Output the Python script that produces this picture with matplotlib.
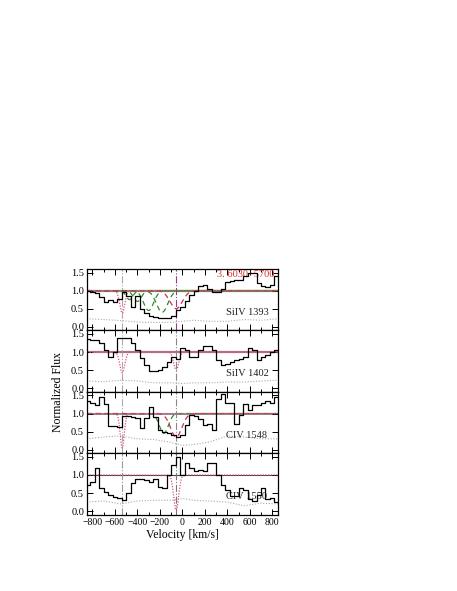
import numpy as np
import matplotlib
matplotlib.use("Agg")
import matplotlib.pyplot as plt
from matplotlib.ticker import MultipleLocator

plt.rcParams['font.family'] = ['Liberation Serif', 'DejaVu Serif']
plt.rcParams['mathtext.fontset'] = 'stix'

# bin centres (km/s)
vel = [-840, -800, -760, -720, -680, -640, -600, -560, -520, -480, -440, -400,
       -360, -320, -280, -240, -200, -160, -120, -80, -40, 0, 40, 80, 120, 160,
       200, 240, 280, 320, 360, 400, 440, 480, 520, 560, 600, 640, 680, 720,
       760, 800, 840]

flux_si1393 = [1.00, 0.97, 0.92, 0.83, 0.68, 0.73, 0.68, 0.78, 0.95, 0.85, 0.55,
               0.85, 0.50, 0.38, 0.30, 0.28, 0.25, 0.24, 0.23, 0.30, 0.45, 0.55,
               0.72, 0.88, 1.00, 1.12, 1.15, 1.05, 0.97, 0.95, 1.05, 1.25, 1.27,
               1.30, 1.30, 1.40, 1.50, 1.50, 1.20, 1.12, 1.10, 1.15, 1.40]
flux_si1402 = [1.36, 1.34, 1.34, 1.26, 1.07, 0.87, 1.00, 1.40, 1.38, 1.38, 1.26,
               1.07, 0.83, 0.63, 0.49, 0.49, 0.50, 0.60, 0.73, 0.87, 0.80, 1.12,
               1.05, 0.87, 0.87, 1.07, 1.16, 1.16, 1.07, 0.78, 0.63, 0.68, 0.73,
               0.78, 0.80, 0.85, 1.12, 1.05, 0.78, 0.85, 0.92, 1.00, 1.07]
flux_c1548 = [1.34, 1.28, 1.23, 1.45, 1.25, 0.66, 0.66, 0.63, 0.93, 0.93, 0.90,
              0.89, 0.60, 0.89, 1.19, 0.90, 0.55, 0.50, 0.46, 0.40, 0.35, 0.40,
              0.67, 0.95, 0.93, 0.84, 0.67, 0.70, 0.54, 1.40, 1.53, 1.28, 1.28,
              0.72, 0.95, 1.25, 1.10, 1.23, 1.23, 1.28, 1.35, 1.30, 1.45]
flux_c1550 = [0.72, 0.81, 1.18, 0.63, 0.54, 0.44, 0.40, 0.35, 0.32, 0.49, 0.77,
              0.90, 0.88, 0.85, 0.80, 0.90, 0.68, 0.65, 1.00, 1.28, 1.50, 1.00,
              1.32, 1.19, 1.10, 1.15, 1.10, 1.32, 1.34, 1.00, 0.72, 0.59, 0.41,
              0.41, 0.63, 0.59, 0.33, 0.28, 0.46, 0.63, 0.33, 0.37, 0.24]

# error spectra (km/s, sigma)
err_vel = [-850, -700, -550, -400, -250, -100, 0, 100, 250, 400, 550, 700, 850]
err_si1393 = [0.22, 0.20, 0.17, 0.13, 0.12, 0.12, 0.15, 0.18, 0.15, 0.15, 0.20, 0.18, 0.22]
err_si1402 = [0.20, 0.18, 0.22, 0.20, 0.15, 0.15, 0.13, 0.15, 0.15, 0.17, 0.17, 0.20, 0.22]
err_c1548 = [0.30, 0.35, 0.38, 0.30, 0.28, 0.20, 0.12, 0.14, 0.22, 0.38, 0.35, 0.30, 0.30]
err_c1550 = [0.25, 0.28, 0.20, 0.28, 0.30, 0.30, 0.35, 0.30, 0.28, 0.25, 0.15, 0.22, 0.20]

# model components: (centre km/s, depth, sigma km/s)
red_dotted = {
    'SiIV 1393': [(-535, 0.62, 22)],
    'SiIV 1402': [(-535, 0.57, 22), (-55, 0.50, 22)],
    'CIV 1548': [(-535, 0.95, 18)],
    'CIV 1550': [(-55, 0.98, 22)],
}
red_dashed = {
    'SiIV 1393': [(-55, 0.50, 55)],
    'SiIV 1402': [],
    'CIV 1548': [(-55, 0.65, 50)],
    'CIV 1550': [],
}
green_dashed = {
    'SiIV 1393': [(-470, 0.25, 30), (-400, 0.30, 35), (-300, 0.55, 45), (-180, 0.60, 50)],
    'SiIV 1402': [],
    'CIV 1548': [(-165, 0.55, 40)],
    'CIV 1550': [],
}

ions = ['SiIV 1393', 'SiIV 1402', 'CIV 1548', 'CIV 1550']
fluxes = [flux_si1393, flux_si1402, flux_c1548, flux_c1550]
errs = [err_si1393, err_si1402, err_c1548, err_c1550]
cont_colors = ['#7f8c76', '#9b7f88', '#8c8c8c', '#444444']
cont_lw = [1.6, 1.6, 1.4, 0.8]
vline_colors = [['#aaaaaa', '#9a3a8a'], ['#aaaaaa', '#888888'],
                ['#aaaaaa', '#888888'], ['#999999', '#777777']]
vlines = [-535, -55]

fig = plt.figure(figsize=(4.57, 5.91), dpi=100)
left, width = 0.190, 0.418
top, bottom = 0.545, 0.129
h = (top - bottom) / 4

vgrid = np.linspace(-850, 850, 1200)

def profile(comps):
    out = np.ones_like(vgrid)
    for c, d, s in comps:
        out *= 1 - d * np.exp(-0.5 * ((vgrid - c) / s) ** 2)
    return out

axes = []
for i, ion in enumerate(ions):
    ax = fig.add_axes([left, top - (i + 1) * h, width, h])
    axes.append(ax)
    ax.plot(err_vel, errs[i], ls=(0, (1, 1.5)), color='#aaaaaa', lw=0.8)
    ax.axhline(1.0, color=cont_colors[i], lw=cont_lw[i], zorder=1)
    for v, c in zip(vlines, vline_colors[i]):
        ax.axvline(v, color=c, ls='-.', lw=0.8, zorder=1)
    for comp in green_dashed[ion]:
        ax.plot(vgrid, profile([comp]), color='#2e8b2e', ls=(0, (4, 3)), lw=0.9)
    for comp in red_dashed[ion]:
        ax.plot(vgrid, profile([comp]), color='#c8305a', ls=(0, (4, 3)), lw=0.9)
    for comp in red_dotted[ion]:
        ax.plot(vgrid, profile([comp]), color='#e0507a', ls=(0, (1, 1.2)), lw=0.9)
    ax.plot(vel, fluxes[i], drawstyle='steps-mid', color='black', lw=0.9, zorder=5)
    ax.set_xlim(-850, 850)
    ax.set_ylim(-0.1, 1.6)
    ax.set_yticks([0.0, 0.5, 1.0, 1.5])
    ax.set_yticklabels(['0.0', '0.5', '1.0', '1.5'])
    ax.xaxis.set_major_locator(MultipleLocator(200))
    ax.xaxis.set_minor_locator(MultipleLocator(100))
    ax.tick_params(direction='in', top=True, right=True, labelsize=7.5,
                   length=4, width=0.7, pad=2)
    ax.tick_params(which='minor', direction='in', top=True, right=True,
                   length=2.5, width=0.7)
    for sp in ax.spines.values():
        sp.set_linewidth(0.9)
    if i < 3:
        ax.tick_params(labelbottom=False)
    ax.text(390, 0.33, ion, fontsize=7.5, color='#222222')

axes[0].text(820, 1.38, '3. 6030+5700', color='#e03030', fontsize=7.5, ha='right')
axes[3].set_xticks([-800, -600, -400, -200, 0, 200, 400, 600, 800])
axes[3].set_xticklabels(['\u2212800', '\u2212600', '\u2212400', '\u2212200', '0',
                         '200', '400', '600', '800'], fontsize=7)
axes[3].set_xlabel('Velocity [km/s]', fontsize=8.5, labelpad=2)
fig.text(0.128, (top + bottom) / 2, 'Normalized Flux', rotation=90,
         ha='center', va='center', fontsize=8.5)

fig.savefig('out.png', dpi=100)
